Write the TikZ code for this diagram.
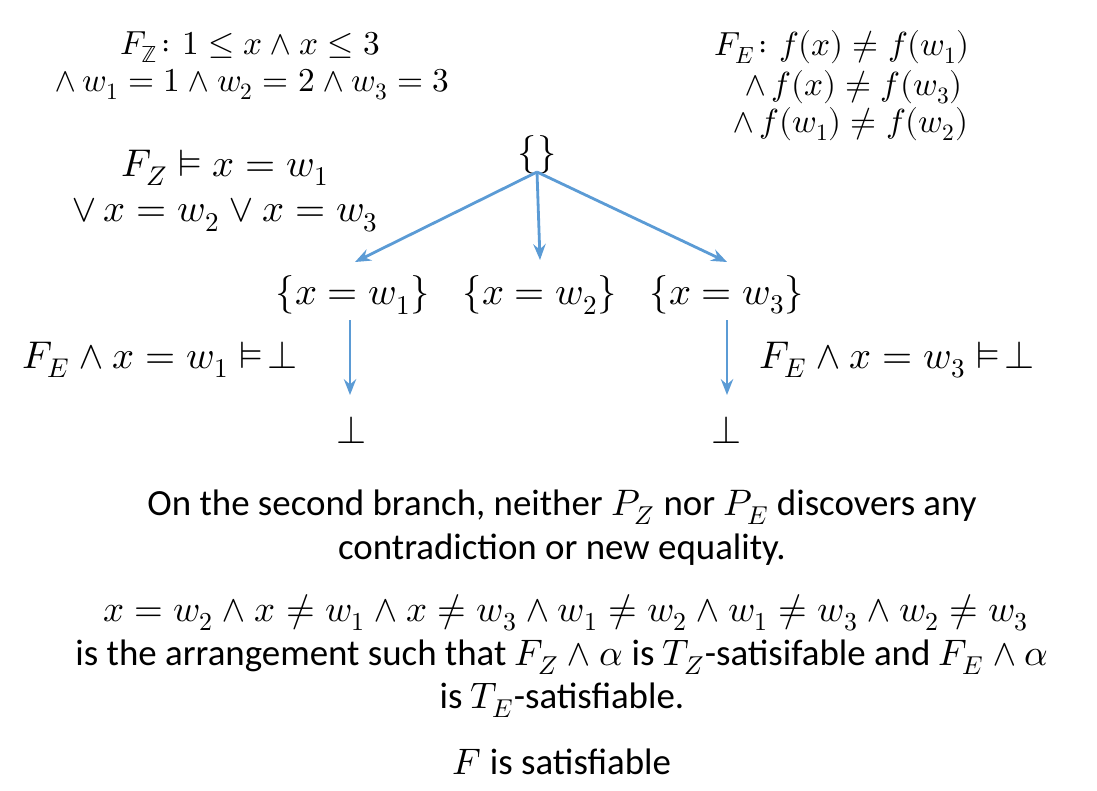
\documentclass[tikz,border=0pt]{standalone}
\usepackage{amsmath,amssymb}
\usepackage{unicode-math}
\setmainfont{Carlito}
\setmathfont{Latin Modern Math}
\usetikzlibrary{arrows.meta}
\definecolor{ab}{RGB}{91,155,213}
\begin{document}
\begin{tikzpicture}[x=0.02cm,y=-0.02cm,
  m/.style={font=\fontsize{22}{26}\selectfont,inner sep=1pt},
  s/.style={font=\fontsize{19}{22}\selectfont,inner sep=1pt},
  t/.style={font=\fontsize{21}{25}\selectfont,align=center,inner sep=1pt},
  ar/.style={draw=ab,line width=1.6pt,-{Stealth[length=9pt,width=7pt,inset=3pt]}}]
\useasboundingbox (0,0) rectangle (1097,790);
\node[s] (fz1) at (250,47) {$F_{\mathbb{Z}}\colon 1\le x\land x\le 3$};
\node[s] (fz2) at (252,85) {$\land\, w_1=1\land w_2=2\land w_3=3$};
\node[s,anchor=west] (fe1) at (712,47) {$F_E\colon f(x)\ne f(w_1)$};
\node[s,anchor=west] (fe2) at (742,87) {$\land\, f(x)\ne f(w_3)$};
\node[s,anchor=west] (fe3) at (730,124) {$\land\, f(w_1)\ne f(w_2)$};
\node[m] (root) at (537,155) {$\{\}$};
\node[m] (e1) at (225,168) {$F_Z\vDash x=w_1$};
\node[m] (e2) at (225,215) {$\lor\, x=w_2\lor x=w_3$};
\node[m] (a) at (353,295) {$\{x=w_1\}$};
\node[m] (b) at (540,295) {$\{x=w_2\}$};
\node[m] (c) at (727,295) {$\{x=w_3\}$};
\node[m] (ba) at (352,430) {$\bot$};
\node[m] (bc) at (727,430) {$\bot$};
\node[m] (la) at (160,360) {$F_E\land x=w_1\vDash\!\bot$};
\node[m] (lc) at (897,360) {$F_E\land x=w_3\vDash\!\bot$};
\coordinate (r0) at (537,172);
\coordinate (ta) at (355,262);
\coordinate (tb) at (540,260);
\coordinate (tc) at (727,262);
\coordinate (da) at (350,320); \coordinate (db) at (350,395);
\coordinate (dc) at (727,320); \coordinate (dd) at (727,395);
\draw[ar] (r0) -- (ta);
\draw[ar] (r0) -- (tb);
\draw[ar] (r0) -- (tc);
\draw[ar] (da) -- (db);
\draw[ar] (dc) -- (dd);
\node[t] (p1) at (562,507) {On the second branch, neither $P_Z$ nor $P_E$ discovers any};
\node[t] (p2) at (562,550) {contradiction or new equality.};
\node[t] (p3) at (566,613) {$x=w_2\land x\ne w_1\land x\ne w_3\land w_1\ne w_2\land w_1\ne w_3\land w_2\ne w_3$};
\node[t] (p4) at (562,657) {is the arrangement such that $F_Z\land\alpha$ is $T_Z$-satisifable and $F_E\land\alpha$};
\node[t] (p5) at (562,700) {is $T_E$-satisfiable.};
\node[t] (p6) at (562,762) {$F$ is satisfiable};
\end{tikzpicture}
\end{document}
